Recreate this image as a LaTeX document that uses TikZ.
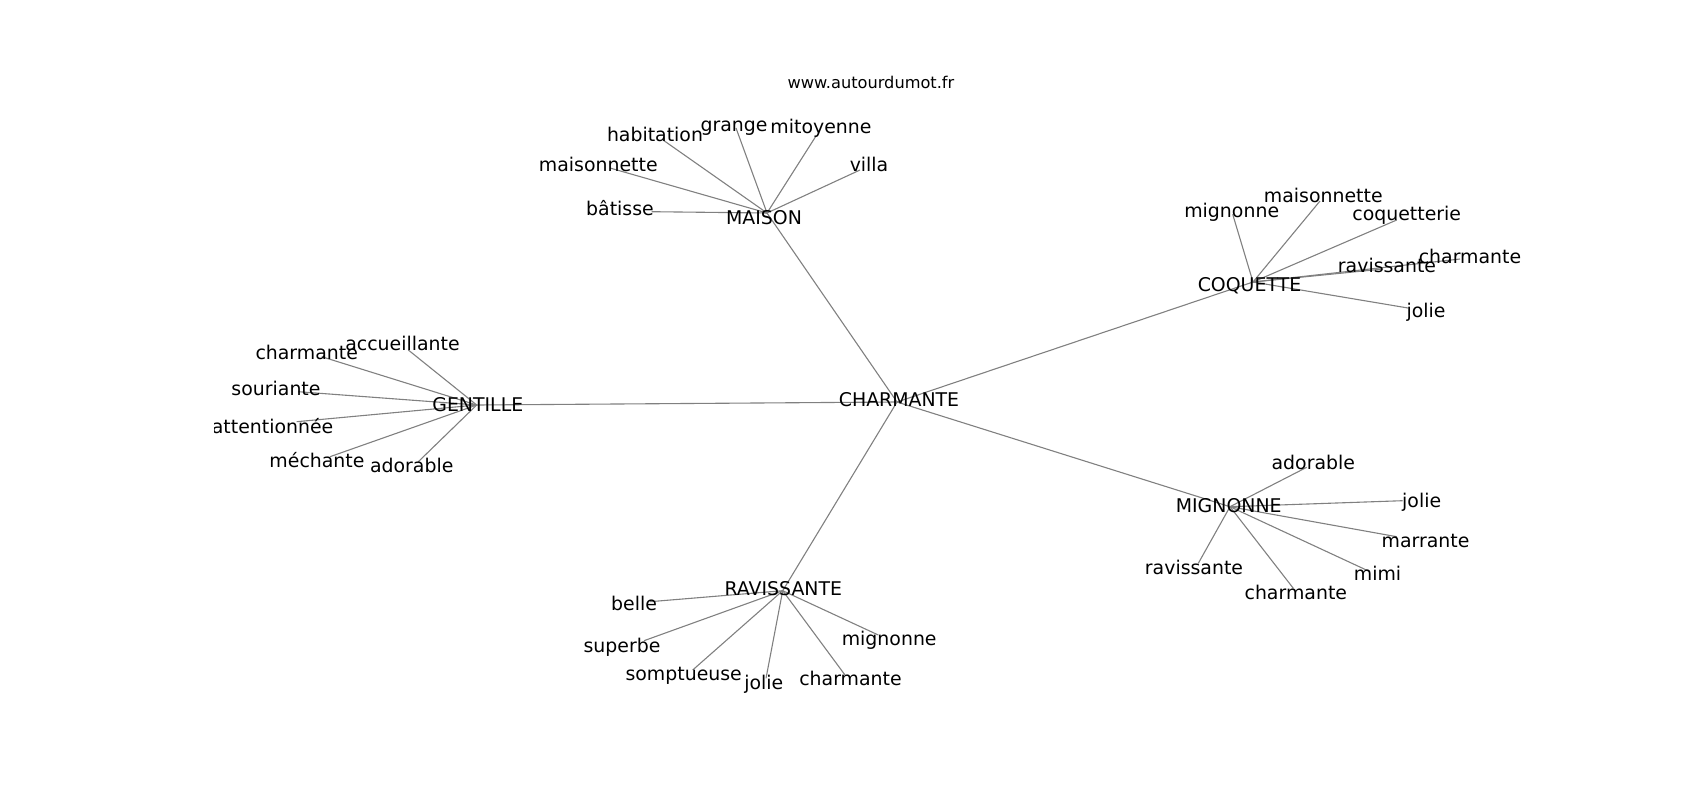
\documentclass[tikz,border=0pt]{standalone}
\usepackage{fontspec}
\setmainfont{DejaVu Sans}
\usetikzlibrary{backgrounds}

\tikzset{
  word/.style={anchor=base, inner sep=0pt, font=\fontsize{18.9}{22}\selectfont},
  site/.style={anchor=base, inner sep=0pt, font=\fontsize{16.2}{19}\selectfont},
  link/.style={draw=black!50, line width=1.1pt},
}
% a word: end point of its links, then its text
\newcommand{\Word}[4]{%
  \coordinate (#1) at (#2);
  \node[word] (#1-text) at (#3) {#4};}

\begin{document}
\begin{tikzpicture}[x=1pt,y=-1pt]
\useasboundingbox (0,0) rectangle (1700,800);
\clip (214.5,0) rectangle (1700,800);

\node[site] (url) at (871,88.8) {www.autourdumot.fr};

% centre and hubs
\Word{charmante}{897,402}{899,406}{CHARMANTE}
\Word{maison}{767,213}{764,224}{MAISON}
\Word{coquette}{1253,282}{1249.5,291.7}{COQUETTE}
\Word{gentille}{476.7,405}{477.8,411.5}{GENTILLE}
\Word{mignonne}{1230,506.7}{1228.7,512.4}{MIGNONNE}
\Word{ravissante}{782.7,590.7}{783.3,595.7}{RAVISSANTE}

% MAISON
\Word{maison-habitation}{663,140}{655,141.7}{habitation}
\Word{maison-grange}{736,128}{734,131.3}{grange}
\Word{maison-mitoyenne}{816,136}{821,133.4}{mitoyenne}
\Word{maison-maisonnette}{610,168}{598.3,171.4}{maisonnette}
\Word{maison-villa}{860,170}{869,171.7}{villa}
\Word{maison-batisse}{651.7,211.7}{620,215.7}{bâtisse}

% COQUETTE
\Word{coquette-mignonne}{1232.7,214.3}{1231.7,217.4}{mignonne}
\Word{coquette-maisonnette}{1320,201}{1323.3,202.4}{maisonnette}
\Word{coquette-coquetterie}{1396.7,220}{1406.7,220.7}{coquetterie}
\Word{coquette-charmante}{1460,259}{1470,263}{charmante}
\Word{coquette-ravissante}{1383,269}{1387,272.4}{ravissante}
\Word{coquette-jolie}{1408,308}{1426,317.4}{jolie}

% GENTILLE
\Word{gentille-accueillante}{408.3,350}{402.5,350.7}{accueillante}
\Word{gentille-charmante}{321.7,356.7}{306.7,359}{charmante}
\Word{gentille-souriante}{298.3,391.7}{276,395.7}{souriante}
\Word{gentille-attentionnee}{296.7,421.7}{272.6,433}{attentionnée}
\Word{gentille-mechante}{330,456.7}{317,467.7}{méchante}
\Word{gentille-adorable}{418.3,461.7}{411.7,472.7}{adorable}

% MIGNONNE
\Word{mignonne-adorable}{1306.7,467.3}{1313.3,469}{adorable}
\Word{mignonne-jolie}{1402.7,500.7}{1421.7,507.4}{jolie}
\Word{mignonne-marrante}{1396.7,536.7}{1425.5,547.4}{marrante}
\Word{mignonne-mimi}{1370,571.7}{1377.5,580.7}{mimi}
\Word{mignonne-charmante}{1293.3,588.3}{1295.8,599}{charmante}
\Word{mignonne-ravissante}{1198.3,563.3}{1194,574}{ravissante}

% RAVISSANTE
\Word{ravissante-belle}{650,601.7}{634,610.7}{belle}
\Word{ravissante-superbe}{644,640.7}{622,652.4}{superbe}
\Word{ravissante-somptueuse}{692.7,670}{683.7,680.7}{somptueuse}
\Word{ravissante-jolie}{766,678.3}{763.8,689}{jolie}
\Word{ravissante-charmante}{845,675}{850.5,685.7}{charmante}
\Word{ravissante-mignonne}{878.3,635}{889.2,645.7}{mignonne}

\begin{scope}[on background layer]
\foreach \hub in {maison,coquette,gentille,mignonne,ravissante}
  \draw[link] (charmante) -- (\hub);
\foreach \leaf in {habitation,grange,mitoyenne,maisonnette,villa,batisse}
  \draw[link] (maison) -- (maison-\leaf);
\foreach \leaf in {mignonne,maisonnette,coquetterie,charmante,ravissante,jolie}
  \draw[link] (coquette) -- (coquette-\leaf);
\foreach \leaf in {accueillante,charmante,souriante,attentionnee,mechante,adorable}
  \draw[link] (gentille) -- (gentille-\leaf);
\foreach \leaf in {adorable,jolie,marrante,mimi,charmante,ravissante}
  \draw[link] (mignonne) -- (mignonne-\leaf);
\foreach \leaf in {belle,superbe,somptueuse,jolie,charmante,mignonne}
  \draw[link] (ravissante) -- (ravissante-\leaf);
\end{scope}
\end{tikzpicture}
\end{document}
